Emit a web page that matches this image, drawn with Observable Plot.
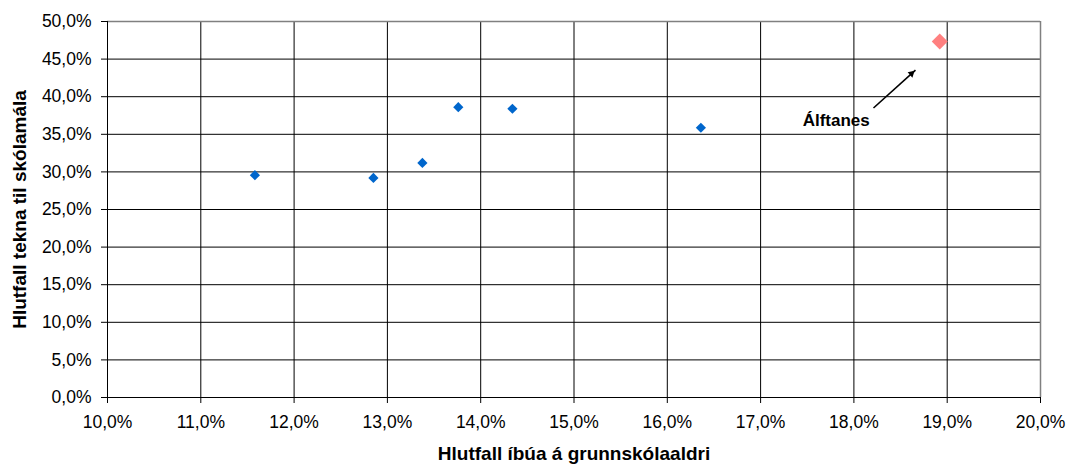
<!DOCTYPE html>
<html>
<head>
<meta charset="utf-8">
<script src="https://cdn.jsdelivr.net/npm/d3@7"></script>
<script src="https://cdn.jsdelivr.net/npm/@observablehq/plot@0.6"></script>
<style>
  html, body { margin: 0; padding: 0; background: #fff; }
  #chart svg { display: block; }
</style>
</head>
<body>
<div id="chart"></div>
<script>
// Data (percent values)
const towns = ["A", "B", "C", "D", "E", "F"];
const childShare = [11.58, 12.85, 13.375, 13.76, 14.34, 16.36];
const schoolSpend = [29.56, 29.2, 31.2, 38.6, 38.4, 35.87];
const highlightName = ["Álftanes"];
const highlightX = [18.92];
const highlightY = [47.33];
// annotation
const labelX = [17.81];
const labelY = [36.8];
const arrowFrom = [18.21, 38.5];
const arrowTo = [18.66, 43.54];
const xTicks = [10, 11, 12, 13, 14, 15, 16, 17, 18, 19, 20];
const yTicks = [0, 5, 10, 15, 20, 25, 30, 35, 40, 45, 50];
const xTitle = "Hlutfall íbúa á grunnskólaaldri";
const yTitle = "Hlutfall tekna til skólamála";

const points = towns.map((t, i) => ({town: t, x: childShare[i], y: schoolSpend[i]}));
const highlight = highlightName.map((n, i) => ({name: n, x: highlightX[i], y: highlightY[i]}));
const label = highlightName.map((n, i) => ({name: n, x: labelX[i], y: labelY[i]}));
const arrow = [{x1: arrowFrom[0], y1: arrowFrom[1], x2: arrowTo[0], y2: arrowTo[1]}];

const fmt = d => d.toFixed(1).replace(".", ",") + "%";

function build(headRotate, headDx, headDy) {
  return Plot.plot({
    width: 1072,
    height: 469,
    marginLeft: 107,
    marginRight: 32,
    marginTop: 21,
    marginBottom: 72,
    style: {fontFamily: "'Liberation Sans', Arial, sans-serif", fontSize: "17.5px", color: "black", background: "white"},
    x: {domain: [10, 20], label: null},
    y: {domain: [0, 50], label: null},
    marks: [
      Plot.gridX(xTicks.slice(1, -1), {stroke: "black", strokeOpacity: 1, strokeWidth: 1}),
      Plot.gridY(yTicks.slice(1, -1), {stroke: "black", strokeOpacity: 1, strokeWidth: 1}),
      Plot.ruleY([50], {stroke: "#808080", strokeWidth: 1.5}),
      Plot.ruleX([20], {stroke: "#808080", strokeWidth: 1.5}),
      Plot.ruleY([0], {stroke: "black"}),
      Plot.ruleX([10], {stroke: "black"}),
      Plot.axisX(xTicks, {tickFormat: fmt, tickSize: 6, tickPadding: 12, fontSize: 17.5, label: null}),
      Plot.axisY(yTicks, {tickFormat: fmt, tickSize: 6, tickPadding: 10, fontSize: 17.5, label: null}),
      Plot.dot(points, {x: "x", y: "y", symbol: "diamond2", r: 4.6, fill: "#0066CC", stroke: "none"}),
      Plot.dot(highlight, {x: "x", y: "y", symbol: "diamond2", r: 7.2, fill: "#FF8080", stroke: "none"}),
      Plot.link(arrow, {x1: "x1", y1: "y1", x2: "x2", y2: "y2", stroke: "black", strokeWidth: 1.6}),
      Plot.dot(arrow, {x: "x2", y: "y2", symbol: "triangle2", r: 3.4, fill: "black", stroke: "none", rotate: headRotate, dx: headDx, dy: headDy}),
      Plot.text(label, {x: "x", y: "y", text: "name", fontWeight: "bold", fontSize: 17, fill: "black"}),
      Plot.text([xTitle], {frameAnchor: "bottom", lineAnchor: "middle", dy: 56, fontWeight: "bold", fontSize: 19, fill: "black"}),
      Plot.text([yTitle], {frameAnchor: "left", textAnchor: "middle", lineAnchor: "middle", rotate: -90, dx: -88, fontWeight: "bold", fontSize: 19, fill: "black"})
    ]
  });
}

// first pass to read scales, then orient the arrowhead along the arrow
const probe = build(0, 0, 0);
const sx = probe.scale("x"), sy = probe.scale("y");
const px1 = sx.apply(arrowFrom[0]), py1 = sy.apply(arrowFrom[1]);
const px2 = sx.apply(arrowTo[0]), py2 = sy.apply(arrowTo[1]);
const vx = px2 - px1, vy = py2 - py1;
const len = Math.hypot(vx, vy);
const ang = Math.atan2(vx, -vy) * 180 / Math.PI;
const half = Math.sqrt((Math.PI * 3.4 * 3.4) / (Math.sqrt(3) * 3));
const back = 2 * half;
const chart = build(ang, -vx / len * back, -vy / len * back);
document.getElementById("chart").appendChild(chart);
</script>
</body>
</html>
